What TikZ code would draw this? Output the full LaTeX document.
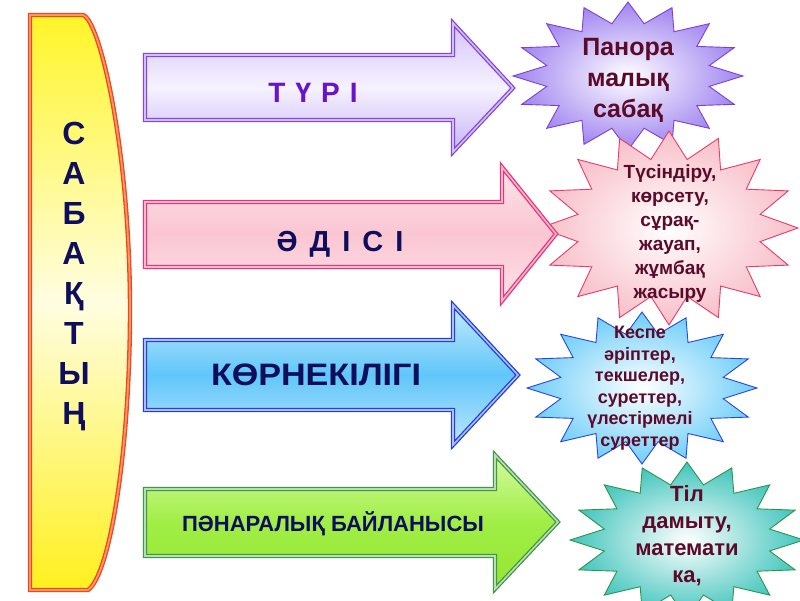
\documentclass[tikz,border=0pt]{standalone}
\usepackage{fontspec}
\usepackage{graphicx}
\setmainfont{Liberation Sans}
\definecolor{navy}{RGB}{14,14,92}
\definecolor{maroon}{RGB}{92,10,42}
\definecolor{purpleT}{RGB}{104,20,200}
\definecolor{purB}{RGB}{128,72,222}
\definecolor{pinkB}{RGB}{232,52,120}
\definecolor{blueB}{RGB}{32,64,224}
\definecolor{greenB}{RGB}{64,152,64}
\definecolor{barB}{RGB}{236,70,40}
\definecolor{barO}{RGB}{255,150,90}
\definecolor{starP}{RGB}{160,132,240}
\definecolor{starPB}{RGB}{124,64,214}
\definecolor{starK}{RGB}{248,190,200}
\definecolor{starKB}{RGB}{230,60,110}
\definecolor{starB}{RGB}{110,206,248}
\definecolor{starBB}{RGB}{40,70,226}
\definecolor{starT}{RGB}{64,196,188}
\definecolor{starTB}{RGB}{44,150,70}
\tikzset{
  arr/.style={draw=#1, double=#1!35!white, line width=1.3pt, double distance=1.6pt, line join=miter},
  startext/.style={text=maroon, font=\bfseries, align=center, inner sep=0pt},
  arrtext/.style={text=navy, font=\bfseries, anchor=base, inner sep=0pt},
  bartext/.style={text=navy, font=\fontsize{32}{32}\selectfont\bfseries, anchor=base, inner sep=0pt}
}
\begin{document}
\begin{tikzpicture}[x=1pt,y=-1pt]
\useasboundingbox (0,0) rectangle (800,600);
% left bar
\draw[draw=barB, double=barO, line width=1.3pt, double distance=1.8pt,
      top color={rgb,255:red,255;green,245;blue,40}, bottom color={rgb,255:red,255;green,240;blue,30}, middle color={rgb,255:red,255;green,253;blue,225}]
  (30,15) -- (83,15) .. controls (100,20) and (130,150) .. (130,310)
  .. controls (130,450) and (110,575) .. (88,590) -- (30,590) -- cycle;
\foreach \L [count=\i from 0] in {С,А,Б,А,Қ,Т,Ы,Ң}
  \node[bartext] (b\i) at (74,{144+40*\i}) {\L};
% stars
\draw[draw=starPB, line width=0.9pt, shading=radial, inner color=white, outer color=starP]
  plot[samples at={0,1,...,31}, variable=\k] ({628+115*(1-0.28*mod(\k,2))*cos(\k*11.25)}, {76+74*(1-0.28*mod(\k,2))*sin(\k*11.25)}) -- cycle;
\draw[draw=starKB, line width=0.9pt, shading=radial, inner color=white, outer color=starK]
  plot[samples at={0,1,...,31}, variable=\k] ({669+129*(1-0.28*mod(\k,2))*cos(\k*11.25)}, {228+97*(1-0.28*mod(\k,2))*sin(\k*11.25)}) -- cycle;
\draw[draw=starBB, line width=0.9pt, shading=radial, inner color=white, outer color=starB]
  plot[samples at={0,1,...,31}, variable=\k] ({642+115*(1-0.28*mod(\k,2))*cos(\k*11.25)}, {388+76*(1-0.28*mod(\k,2))*sin(\k*11.25)}) -- cycle;
\draw[draw=starTB, line width=0.9pt, shading=radial, inner color=white, outer color=starT]
  plot[samples at={0,1,...,31}, variable=\k] ({687+117*(1-0.28*mod(\k,2))*cos(\k*11.25)}, {540+78*(1-0.28*mod(\k,2))*sin(\k*11.25)}) -- cycle;
\node[startext, font=\fontsize{25}{31}\selectfont\bfseries] (s1) at (628,80) {Панора\\малық\\сабақ};
\node[startext, font=\fontsize{19}{24}\selectfont\bfseries] (s2) at (670,234) {Түсіндіру,\\көрсету,\\сұрақ-\\жауап,\\жұмбақ\\жасыру};
\node[startext, font=\fontsize{18}{21.5}\selectfont\bfseries] (s3) at (640,388) {Кеспе\\әріптер,\\текшелер,\\суреттер,\\үлестірмелі\\суреттер};
\node[startext, font=\fontsize{22}{27}\selectfont\bfseries] (s4) at (687,536) {Тіл\\дамыту,\\математи\\ка,};
% arrows
\draw[arr=purB, top color={rgb,255:red,212;green,196;blue,250}, bottom color={rgb,255:red,200;green,180;blue,246}, middle color={rgb,255:red,246;green,242;blue,255}]
  (145,55) -- (453,55) -- (453,23) -- (513,88) -- (453,152) -- (453,120) -- (145,120) -- cycle;
\draw[arr=pinkB, top color={rgb,255:red,253;green,228;blue,234}, bottom color={rgb,255:red,253;green,226;blue,232}, middle color={rgb,255:red,250;green,198;blue,210}]
  (145,202) -- (502,202) -- (502,167) -- (556,234) -- (502,301) -- (502,267) -- (145,267) -- cycle;
\draw[arr=blueB, top color={rgb,255:red,196;green,234;blue,252}, bottom color={rgb,255:red,190;green,230;blue,252}, middle color={rgb,255:red,96;green,198;blue,250}]
  (145,340) -- (453,340) -- (453,305) -- (518,375) -- (453,445) -- (453,410) -- (145,410) -- cycle;
\draw[arr=greenB, top color={rgb,255:red,214;green,250;blue,160}, bottom color={rgb,255:red,150;green,230;blue,50}, middle color={rgb,255:red,160;green,238;blue,70}]
  (145,489) -- (495,489) -- (495,455) -- (558,522) -- (495,589) -- (495,556) -- (145,556) -- cycle;
\node[arrtext, text=purpleT, font=\fontsize{28}{28}\selectfont\bfseries] (a1) at (313,102) {Т\hspace{10pt}Ү\hspace{10pt}Р\hspace{10pt}І};
\node[arrtext, font=\fontsize{29}{29}\selectfont\bfseries] (a2) at (340,251) {Ә\hspace{12pt}Д\hspace{12pt}І\hspace{12pt}С\hspace{12pt}І};
\node[arrtext, font=\fontsize{31}{31}\selectfont\bfseries] (a3) at (316,385) {\scalebox{1.1}[1]{КӨРНЕКІЛІГІ}};
\node[arrtext, font=\fontsize{22}{22}\selectfont\bfseries] (a4) at (333,531) {ПӘНАРАЛЫҚ БАЙЛАНЫСЫ};
\end{tikzpicture}
\end{document}
